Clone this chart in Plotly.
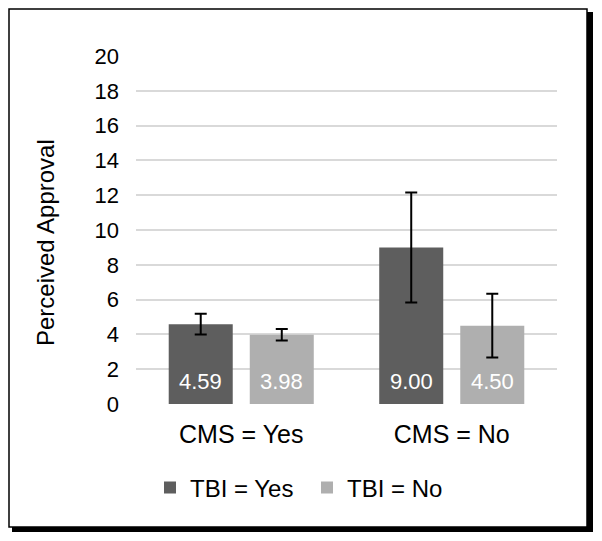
import plotly.graph_objects as go

categories = ["CMS = Yes", "CMS = No"]
series_names = ["TBI = Yes", "TBI = No"]
tbi_yes = [4.59, 9.00]
tbi_no = [3.98, 4.50]
err_yes = [0.60, 3.16]
err_no = [0.33, 1.83]
y_ticks = list(range(0, 21, 2))
y_title = "Perceived Approval"

FONT = "Liberation Sans, Arial, sans-serif"
colors = ["#5e5e5e", "#afafaf"]

BARGAP = 0.23
BARGROUPGAP = 0.21

fig = go.Figure()
series = [(series_names[0], tbi_yes, err_yes, colors[0]),
          (series_names[1], tbi_no, err_no, colors[1])]
for name, vals, errs, col in series:
    fig.add_trace(go.Bar(
        x=list(range(len(categories))), y=vals, name=name,
        marker=dict(color=col, line=dict(width=0)),
        error_y=dict(type="data", array=errs, visible=True, color="black", thickness=2, width=6),
    ))

# figure coordinates (page has ~8px body offset)
FW, FH = 594, 533
L, T, W, H = 128, 48, 421, 348
def px(x):
    return (x - L) / W
def py(y):
    return (T + H - y) / H

# value labels placed at each bar's centre through the data scales
slot = (1 - BARGAP) / len(series)
annotations = []
for k, (name, vals, errs, col) in enumerate(series):
    off = -(1 - BARGAP) / 2 + slot * (k + 0.5)
    for i, v in enumerate(vals):
        annotations.append(dict(
            x=i + off, y=0, xref="x", yref="y", text=f"{v:.2f}", showarrow=False,
            yanchor="middle", xanchor="center", yshift=23,
            font=dict(color="white", size=22, family=FONT)))

annotations.append(dict(
    x=px(37), y=py(235), xref="paper", yref="paper", text=y_title, showarrow=False,
    textangle=-90, xanchor="center", yanchor="middle",
    font=dict(color="black", size=24, family=FONT)))

shapes = [
    dict(type="rect", xref="paper", yref="paper", layer="below",
         x0=px(4), x1=px(585), y0=py(524), y1=py(4),
         fillcolor="black", line=dict(width=0)),
    dict(type="rect", xref="paper", yref="paper", layer="below",
         x0=px(1), x1=px(579), y0=py(519), y1=py(1),
         fillcolor="white", line=dict(color="black", width=1.5)),
]

fig.update_layout(
    width=FW, height=FH,
    margin=dict(l=L, r=FW - L - W, t=T, b=FH - T - H),
    paper_bgcolor="white", plot_bgcolor="rgba(0,0,0,0)",
    font=dict(family=FONT, size=22, color="black"),
    barmode="group", bargap=BARGAP, bargroupgap=BARGROUPGAP,
    shapes=shapes, annotations=annotations,
    showlegend=True,
    legend=dict(orientation="h", x=px(142), xanchor="left", y=py(480), yanchor="middle",
                entrywidth=112, entrywidthmode="pixels",
                font=dict(size=24, family=FONT), bgcolor="rgba(0,0,0,0)", traceorder="normal"),
    xaxis=dict(showgrid=False, showline=False, ticks="", ticklabelstandoff=13,
               tickvals=list(range(len(categories))), ticktext=categories,
               range=[-0.5, len(categories) - 0.5],
               tickfont=dict(size=25)),
    yaxis=dict(range=[0, 20], tickvals=y_ticks, showgrid=True, gridcolor="#d9d9d9", gridwidth=1.5,
               zeroline=False, showline=False, ticks="", ticklabelstandoff=16,
               tickfont=dict(size=22)),
)

fig.write_html("out.html")
